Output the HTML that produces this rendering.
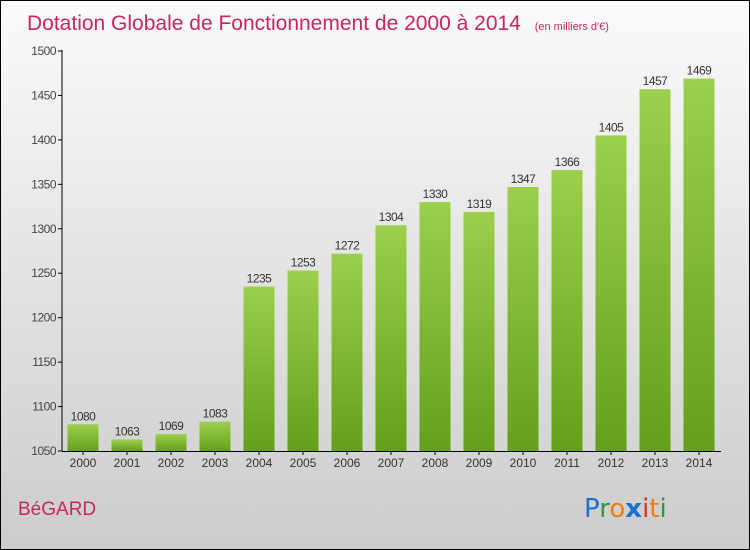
<!DOCTYPE html>
<html><head><meta charset="utf-8"><style>
body{margin:0}
#c{width:748px;height:548px;border:1px solid #000;background:linear-gradient(#fbfbfb,#cccccc);position:relative;font-family:"Liberation Sans",sans-serif;overflow:hidden}
</style></head><body>
<div id="c">
<svg id="s" width="748" height="548" style="position:absolute;left:0;top:0">
<defs><linearGradient id="g" x1="0" y1="0" x2="0" y2="1"><stop offset="0" stop-color="#9ccf4c"/><stop offset="1" stop-color="#64a01a"/></linearGradient></defs>
<text x="26" y="29" font-size="21" fill="#c8285a">Dotation Globale de Fonctionnement de 2000 à 2014 <tspan font-size="11" dx="8">(en milliers d'€)</tspan></text>
<text x="17" y="514" font-size="19" fill="#c8285a">BéGARD</text>
<g font-size="26" font-family="'DejaVu Sans',sans-serif">
<text x="583" y="516"><tspan fill="#1a6fd0">P</tspan><tspan fill="#2a9a3a">r</tspan><tspan fill="#f07d10">o</tspan><tspan fill="#1a6fd0" font-weight="bold">x</tspan><tspan fill="#e03020">i</tspan><tspan fill="#f07d10">t</tspan><tspan fill="#2a9a3a">i</tspan></text></g>
<g id="plot"></g>
</svg>
</div>
<script>
const years=["2000","2001","2002","2003","2004","2005","2006","2007","2008","2009","2010","2011","2012","2013","2014"];
const values=[1080,1063,1069,1083,1235,1253,1272,1304,1330,1319,1347,1366,1405,1457,1469];
const yTicks=[1050,1100,1150,1200,1250,1300,1350,1400,1450,1500];
const NS="http://www.w3.org/2000/svg";
const g=document.getElementById('plot');
const y=v=>450-(v-1050)*400/450;
const x=i=>82+i*44;
function mk(t,a,p){const e=document.createElementNS(NS,t);for(const k in a)e.setAttribute(k,a[k]);(p||g).appendChild(e);return e;}
yTicks.forEach(t=>{
 const l=mk('line',{x1:57,x2:61,y1:y(t),y2:y(t),stroke:'#000'});
 
 
 const tx=mk('text',{x:55,y:y(t)+4,'font-size':12,fill:'#444','text-anchor':'end','letter-spacing':'-0.5'});
 tx.textContent=t;
 
 
});
values.forEach((v,i)=>{
 const r=mk('rect',{x:x(i)-15.5,y:y(v),width:31,height:450-y(v),fill:'url(#g)'});
 
 
 const vl=mk('text',{x:x(i),y:y(v)-4,'font-size':12,fill:'#333','text-anchor':'middle','letter-spacing':'-0.5'});
 vl.textContent=v;
 
 
 const tk=mk('line',{x1:x(i),x2:x(i),y1:450,y2:454,stroke:'#000'});
 
 
 const xl=mk('text',{x:x(i),y:466,'font-size':12,fill:'#333','text-anchor':'middle'});
 xl.textContent=years[i];
 
 
});
const ya=mk('line',{x1:61,x2:61,y1:49,y2:450,stroke:'#000'});


const xa=mk('line',{x1:61,x2:720,y1:450.5,y2:450.5,stroke:'#000'});


</script>
</body></html>
